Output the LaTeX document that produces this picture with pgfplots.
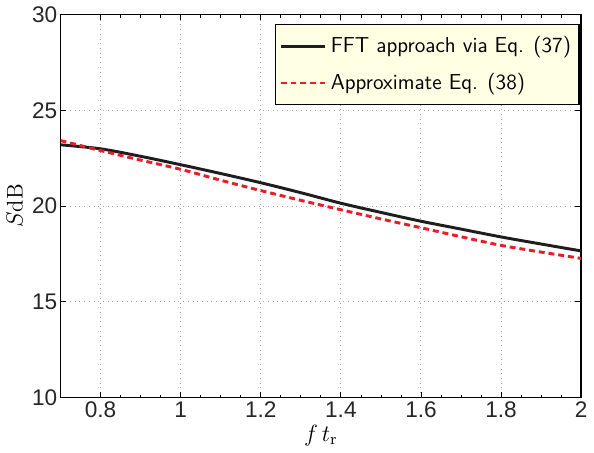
\documentclass[border=0pt]{standalone}
\usepackage{fontspec}
\usepackage{pgfplots}
\pgfplotsset{compat=1.18}
\newfontfamily\helv{Liberation Sans}
\definecolor{legbg}{RGB}{255,255,228}
\definecolor{myred}{RGB}{237,28,36}
\definecolor{myblack}{RGB}{30,30,30}
\begin{document}
\begin{tikzpicture}
\begin{axis}[
  scale only axis,
  width=265pt, height=195pt,
  xmin=0.7, xmax=2, ymin=10, ymax=30,
  xtick={0.8,1,1.2,1.4,1.6,1.8,2},
  xticklabels={0.8,1,1.2,1.4,1.6,1.8,2},
  ytick={10,15,20,25,30},
  minor x tick num=3,
  tick align=inside,
  major tick length=3pt, minor tick length=1.6pt,
  tick style={black, line width=0.4pt},
  axis line style={black, line width=0.7pt},
  grid=major,
  major grid style={dotted, gray!70, line width=0.5pt},
  ticklabel style={font=\helv\fontsize{11.5}{13}\selectfont, text=black!85},
  yticklabel style={inner xsep=1.5pt},
  xticklabel style={inner ysep=2pt},
  /pgf/number format/assume math mode=true,
  xlabel={$f\,t_{\mathrm{r}}$},
  ylabel={$S$dB},
  label style={font=\fontsize{11.5}{13}\selectfont},
  xlabel style={at={(axis description cs:0.5,-0.098)}, anchor=center},
  ylabel style={at={(axis description cs:-0.088,0.5)}, anchor=center},
  legend style={at={(0.997,0.975)}, anchor=north east, fill=legbg, draw=black, line width=0.7pt,
    font=\sffamily\fontsize{11}{13}\selectfont, row sep=5pt, inner xsep=2pt, inner ysep=4pt},
  legend cell align=left,
  legend image code/.code={\draw[#1, line width=1.5pt] (0cm,0cm) -- (0.8cm,0cm);},
]
\addplot[myblack, line width=1.5pt, smooth] coordinates {
(0.7,23.20) (0.8,22.99) (0.9,22.60) (1.0,22.16) (1.1,21.70) (1.2,21.22) (1.3,20.70)
(1.4,20.15) (1.5,19.67) (1.6,19.21) (1.7,18.80) (1.8,18.39) (1.9,18.02) (2.0,17.66)};
\addlegendentry{FFT approach via Eq. (37)}
\addplot[myred, line width=1.5pt, dash pattern=on 3pt off 2pt, smooth] coordinates {
(0.7,23.42) (0.8,22.90) (0.9,22.40) (1.0,21.92) (1.1,21.35) (1.2,20.81) (1.3,20.30)
(1.4,19.81) (1.5,19.33) (1.6,18.87) (1.7,18.40) (1.8,17.95) (1.9,17.60) (2.0,17.27)};
\addlegendentry{Approximate Eq. (38)}
\end{axis}
\end{tikzpicture}
\end{document}
